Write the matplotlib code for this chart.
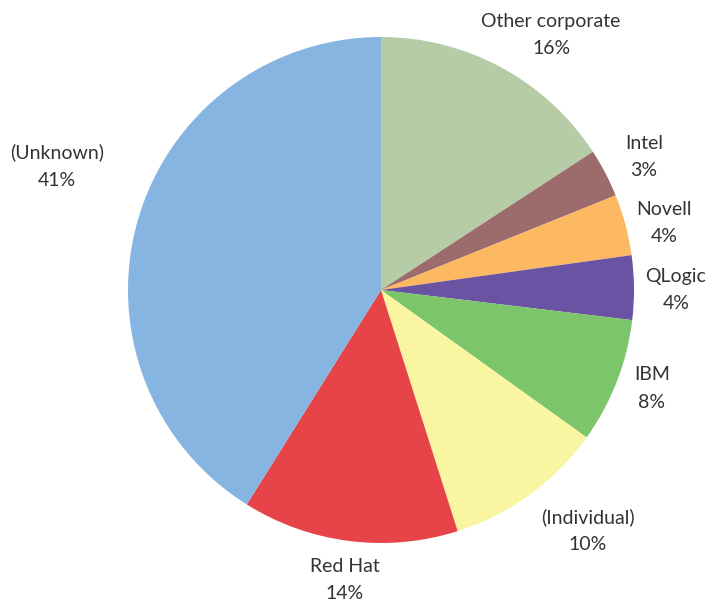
import numpy as np
import matplotlib
matplotlib.use("Agg")
import matplotlib.pyplot as plt

categories = ["Other corporate", "Intel", "Novell", "QLogic", "IBM",
              "(Individual)", "Red Hat", "(Unknown)"]
values = [15.8, 3.1, 3.9, 4.1, 8.0, 10.2, 13.8, 41.1]
pct_labels = ["16%", "3%", "4%", "4%", "8%", "10%", "14%", "41%"]
colors = ["#b6cca6", "#9c6b6c", "#fdb862", "#6a53a3", "#7cc56a",
          "#faf5a1", "#e64449", "#86b5e1"]
# label placement: distance (in radii) and angular nudge (deg) from mid-angle
label_dist = [1.211, 1.165, 1.149, 1.166, 1.139, 1.254, 1.155, 1.371]
label_nudge = [-5.3, -0.7, -1.6, -0.5, 1.3, 4.7, 0.0, -4.9]

plt.rcParams['font.family'] = ['Lato', 'DejaVu Sans']

W, H = 710, 601
fig = plt.figure(figsize=(W / 100, H / 100), dpi=100)
ax = fig.add_axes([0, 0, 1, 1])

cx, cy, R = 381, H - 290, 253
wedges, _ = ax.pie(values, colors=colors, startangle=90, counterclock=False,
                   radius=R, center=(cx, cy), frame=True)
ax.set_xlim(0, W)
ax.set_ylim(0, H)
ax.set_aspect('equal')
ax.axis('off')

for w, name, pct, d, nd in zip(wedges, categories, pct_labels, label_dist, label_nudge):
    mid = np.deg2rad((w.theta1 + w.theta2) / 2 + nd)
    x = cx + R * d * np.cos(mid)
    y = cy + R * d * np.sin(mid)
    ax.text(x, y, f"{name}\n{pct}", ha='center', va='center', fontsize=14,
            color='#333333', linespacing=1.75)

fig.savefig("out.png", dpi=100)
